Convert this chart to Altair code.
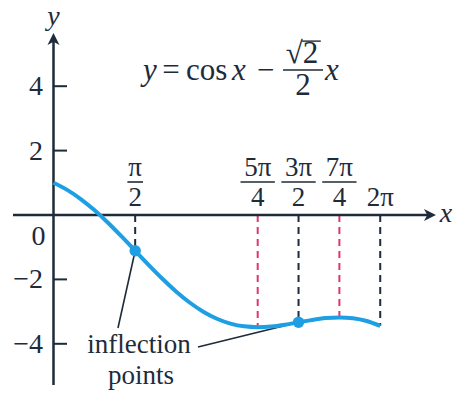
import altair as alt
import pandas as pd

# y = cos x - (sqrt(2)/2) x, sampled every pi/12 on [0, 2pi]
curve_x = [0.0, 0.2618, 0.5236, 0.7854, 1.0472, 1.3090, 1.5708, 1.8326, 2.0944,
           2.3562, 2.6180, 2.8798, 3.1416, 3.4034, 3.6652, 3.9270, 4.1888,
           4.4506, 4.7124, 4.9742, 5.2360, 5.4978, 5.7596, 6.0214, 6.2832]
curve_y = [1.000, 0.781, 0.496, 0.152, -0.240, -0.667, -1.111, -1.555, -1.981,
           -2.373, -2.717, -3.002, -3.221, -3.372, -3.458, -3.484, -3.462,
           -3.406, -3.332, -3.258, -3.202, -3.180, -3.207, -3.292, -3.443]

# dashed guides: x value, curve height there, kind
guide_x = [1.5708, 3.9270, 4.7124, 5.4978, 6.2832]
guide_y = [-1.111, -3.484, -3.332, -3.180, -3.443]
guide_kind = ["inflection", "extremum", "inflection", "extremum", "end"]

# inflection points
infl_x = [1.5708, 4.7124]
infl_y = [-1.111, -3.332]

# x labels written as stacked fractions
frac_num = ["π", "5π", "3π", "7π"]
frac_den = ["2", "4", "2", "4"]
frac_x = [1.5708, 3.9270, 4.7124, 5.4978]
end_label = "2π"
end_x = 6.2832

# y ticks
ytick_vals = [4, 2, -2, -4]
ytick_text = ["4", "2", "−2", "−4"]

INK = "#1d2b3a"
BLUE = "#1f9fe3"
RED = "#e23468"
FONT = "Liberation Serif"

XS = alt.Scale(domain=[-1.0288, 7.7212], nice=False, zero=False)
YS = alt.Scale(domain=[-5.559, 6.677], nice=False, zero=False)


def ex(field):
    return alt.X(field, type="quantitative", scale=XS, axis=None)


def ey(field):
    return alt.Y(field, type="quantitative", scale=YS, axis=None)


curve = pd.DataFrame({"x": curve_x, "y": curve_y})
guides = pd.DataFrame({"x": guide_x, "y": guide_y, "kind": guide_kind, "y0": 0.0})
infl = pd.DataFrame({"x": infl_x, "y": infl_y})

# solid segments: axes, y ticks, leader lines, fraction bars
seg_rows = [
    (0.0, -5.28, 0.0, 5.40, 2.5),
    (-0.779, 0.0, 7.20, 0.0, 2.5),
]
for v in ytick_vals:
    seg_rows.append((0.0, v, 0.26, v, 2.0))
seg_rows.append((1.240, -3.509, infl_x[0], infl_y[0], 1.6))
seg_rows.append((2.779, -4.099, infl_x[1], infl_y[1], 1.6))
for fx, num in zip(frac_x, frac_num):
    hw = 0.15 if len(num) == 1 else 0.33
    seg_rows.append((fx - hw, 1.025, fx + hw, 1.025, 1.6))
# equation: fraction bar and the radical's overline
seg_rows.append((4.413, 4.503, 5.183, 4.503, 1.6))
seg_rows.append((4.78, 5.40, 5.14, 5.40, 1.4))
segs = pd.DataFrame(seg_rows, columns=["x", "y", "x2", "y2", "w"])

guide_layer = alt.Chart(guides).mark_rule(strokeDash=[7, 5], strokeWidth=2).encode(
    x=ex("x"), y=ey("y0"), y2="y",
    color=alt.Color("kind:N", scale=alt.Scale(domain=["inflection", "extremum", "end"],
                                              range=[INK, RED, INK]), legend=None),
)

seg_layer = alt.Chart(segs).mark_rule(color=INK).encode(
    x=ex("x"), y=ey("y"), x2="x2", y2="y2",
    strokeWidth=alt.StrokeWidth("w:Q", scale=None),
)

arrows = pd.DataFrame({"x": [0.0, 7.227], "y": [5.444, 0.0], "a": [0, 90]})
ARROW = "M0,-1L0.9,0.8L0,0.3L-0.9,0.8Z"
arrow_layer = alt.Chart(arrows).mark_point(
    shape=ARROW, filled=True, size=178, color=INK, opacity=1, strokeWidth=0
).encode(x=ex("x"), y=ey("y"), angle=alt.Angle("a:Q", scale=None))

curve_layer = alt.Chart(curve).mark_line(
    color=BLUE, strokeWidth=4, interpolate="monotone"
).encode(x=ex("x"), y=ey("y"))

point_layer = alt.Chart(infl).mark_circle(size=130, color=BLUE, opacity=1).encode(
    x=ex("x"), y=ey("y")
)

# tick labels on the y axis
ylab = pd.DataFrame({"x": [-0.202] * 4, "y": ytick_vals, "t": ytick_text})
ylab_layer = alt.Chart(ylab).mark_text(
    font=FONT, fontSize=28, align="right", baseline="alphabetic", dy=9, color=INK
).encode(x=ex("x"), y=ey("y"), text="t:N")

# centred upright labels (alphabetic baseline)
c_rows = []
for fx, n, d in zip(frac_x, frac_num, frac_den):
    c_rows.append((fx, 1.20, n, 27))
    c_rows.append((fx, 0.27, d, 27))
c_rows.append((end_x, 0.27, end_label, 27))
c_rows.append((-0.288, -0.932, "0", 28))
c_rows.append((4.779, 4.72, "√2", 31))
c_rows.append((4.798, 3.727, "2", 31))
c_rows.append((1.644, -4.286, "inflection", 27))
c_rows.append((1.683, -5.248, "points", 27))
ctext = pd.DataFrame(c_rows, columns=["x", "y", "t", "s"])
ctext_layer = alt.Chart(ctext).mark_text(
    font=FONT, align="center", baseline="alphabetic", color=INK
).encode(x=ex("x"), y=ey("y"), text="t:N", size=alt.Size("s:Q", scale=None))

# equation pieces, left aligned
eq_up = pd.DataFrame({"x": [2.09, 2.55, 3.913], "y": [4.193] * 3,
                      "t": ["=", "cos", "−"]})
eq_up_layer = alt.Chart(eq_up).mark_text(
    font=FONT, fontSize=31, align="left", baseline="alphabetic", color=INK
).encode(x=ex("x"), y=ey("y"), text="t:N")

eq_it = pd.DataFrame({"x": [1.721, 3.433, 5.221], "y": [4.193] * 3,
                      "t": ["y", "x", "x"]})
eq_it_layer = alt.Chart(eq_it).mark_text(
    font=FONT, fontSize=31, fontStyle="italic", align="left", baseline="alphabetic", color=INK
).encode(x=ex("x"), y=ey("y"), text="t:N")

# axis names
axn = pd.DataFrame({"x": [0.0, 7.548], "y": [5.90, -0.217], "t": ["y", "x"]})
axn_layer = alt.Chart(axn).mark_text(
    font=FONT, fontSize=28, fontStyle="italic", align="center", baseline="alphabetic", color=INK
).encode(x=ex("x"), y=ey("y"), text="t:N")

chart = alt.layer(
    guide_layer, seg_layer, arrow_layer, curve_layer, point_layer,
    ylab_layer, ctext_layer, eq_up_layer, eq_it_layer, axn_layer,
).properties(
    width=455, height=394, autosize=alt.AutoSizeParams(type="none"), padding=0,
    background="white",
).configure_view(stroke=None)

chart.save("out.html", embed_options={"renderer": "svg", "actions": False})
